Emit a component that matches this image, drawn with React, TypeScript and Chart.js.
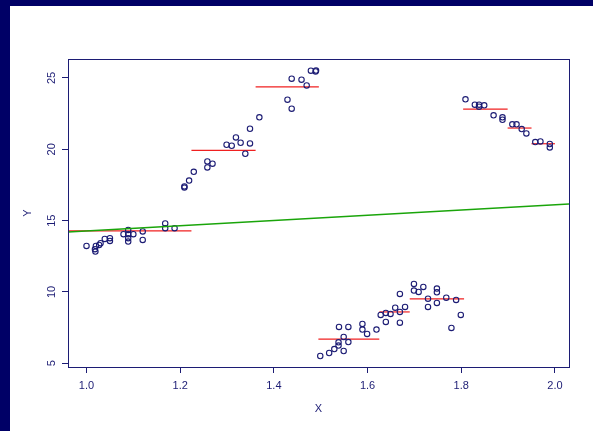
import React, { useEffect, useRef } from "react";
import { Chart, registerables } from "chart.js";

Chart.register(...registerables);

const xTicks = [1.0, 1.2, 1.4, 1.6, 1.8, 2.0];
const yTicks = [5, 10, 15, 20, 25];

const pointX = [
  1.0, 1.02, 1.018, 1.019, 1.027, 1.03, 1.039, 1.05, 1.05, 1.079, 1.089, 1.089, 1.1, 1.089, 1.089, 1.12, 1.12, 1.168, 1.168, 1.188,
  1.209, 1.209, 1.219, 1.229, 1.258, 1.258, 1.269, 1.299, 1.31, 1.319, 1.329, 1.339, 1.349, 1.349, 1.369, 1.429, 1.438, 1.438, 1.459, 1.47, 1.479, 1.489, 1.49,
  1.499, 1.518, 1.529, 1.538, 1.538, 1.539, 1.549, 1.549, 1.559, 1.559, 1.589, 1.589, 1.599, 1.619, 1.628, 1.639, 1.639, 1.649, 1.659, 1.669, 1.669, 1.669, 1.68, 1.699, 1.699, 1.709, 1.719, 1.729, 1.729, 1.748, 1.748, 1.748, 1.768, 1.779, 1.789, 1.799,
  1.809, 1.829, 1.838, 1.838, 1.849, 1.869, 1.888, 1.888, 1.909, 1.918, 1.929, 1.939, 1.958, 1.969, 1.989, 1.989,
];
const pointY = [
  13.23, 13.23, 13.0, 12.83, 13.3, 13.42, 13.72, 13.77, 13.58, 14.05, 14.35, 14.05, 14.05, 13.77, 13.53, 14.24, 13.65, 14.8, 14.47, 14.47,
  17.32, 17.4, 17.81, 18.42, 19.15, 18.73, 18.99, 20.32, 20.25, 20.83, 20.46, 19.69, 20.41, 21.44, 22.24, 23.48, 22.85, 24.95, 24.88, 24.48, 25.51, 25.46, 25.52,
  5.51, 5.72, 6.0, 6.24, 6.47, 7.55, 5.86, 6.85, 6.49, 7.55, 7.76, 7.36, 7.06, 7.36, 8.39, 7.9, 8.53, 8.46, 8.9, 8.6, 7.85, 9.86, 8.95, 10.56, 10.1, 10.0, 10.35, 9.53, 8.95, 10.24, 9.98, 9.23, 9.6, 7.48, 9.44, 8.39,
  23.5, 23.13, 23.13, 22.99, 23.08, 22.38, 22.24, 22.07, 21.75, 21.75, 21.42, 21.11, 20.51, 20.55, 20.37, 20.13,
];

const stepStart = [0.96, 1.224, 1.361, 1.495, 1.625, 1.69, 1.804, 1.899, 1.95];
const stepEnd = [1.224, 1.361, 1.496, 1.625, 1.69, 1.806, 1.899, 1.95, 2.0];
const stepLevel = [14.28, 19.92, 24.37, 6.7, 8.6, 9.51, 22.82, 21.49, 20.39];

const fitX = [0.96, 2.03];
const fitY = [14.2, 16.17];

const NAVY = "#1c1c74";
const RED = "#f02020";
const GREEN = "#1aa50a";
const FONT = "'Liberation Sans', Arial, sans-serif";

export default function App() {
  const ref = useRef<HTMLCanvasElement>(null);

  useEffect(() => {
    const canvas = ref.current;
    if (!canvas) return;

    const boxPlugin = {
      id: "boxPlugin",
      afterDraw(chart: any) {
        const { ctx, chartArea } = chart;
        ctx.save();
        ctx.strokeStyle = NAVY;
        ctx.lineWidth = 1;
        ctx.strokeRect(
          Math.round(chartArea.left) + 0.5,
          Math.round(chartArea.top) + 0.5,
          Math.round(chartArea.right - chartArea.left),
          Math.round(chartArea.bottom - chartArea.top)
        );
        ctx.restore();
      },
    };

    const datasets: any[] = [];
    datasets.push({
      data: pointX.map((x, i) => ({ x, y: pointY[i] })),
      showLine: false,
      pointStyle: "circle",
      pointRadius: 2.7,
      pointBorderWidth: 1.1,
      borderColor: NAVY,
      backgroundColor: "rgba(0,0,0,0)",
      pointBackgroundColor: "rgba(0,0,0,0)",
      order: 1,
    });
    stepStart.forEach((s, i) => {
      datasets.push({
        data: [
          { x: s, y: stepLevel[i] },
          { x: stepEnd[i], y: stepLevel[i] },
        ],
        showLine: true,
        borderColor: RED,
        borderWidth: 1.2,
        pointRadius: 0,
        order: 2,
      });
    });
    datasets.push({
      data: fitX.map((x, i) => ({ x, y: fitY[i] })),
      showLine: true,
      borderColor: GREEN,
      borderWidth: 1.4,
      pointRadius: 0,
      order: 0,
    });

    const chart = new Chart(canvas, {
      type: "scatter",
      data: { datasets },
      plugins: [boxPlugin],
      options: {
        animation: false,
        responsive: false,
        devicePixelRatio: 1,
        layout: { padding: { top: 53, right: 24, left: 0, bottom: 0 } },
        plugins: { legend: { display: false }, tooltip: { enabled: false } },
        scales: {
          x: {
            type: "linear",
            min: 0.9605,
            max: 2.03,
            afterFit: (s: any) => {
              s.height = 64;
            },
            afterBuildTicks: (s: any) => {
              s.ticks = xTicks.map((v) => ({ value: v }));
            },
            border: { display: false },
            grid: {
              display: true,
              drawOnChartArea: false,
              drawTicks: true,
              tickLength: 6,
              color: NAVY,
              lineWidth: 1,
            },
            ticks: {
              color: NAVY,
              font: { family: FONT, size: 11 },
              padding: 6,
              maxRotation: 0,
              minRotation: 0,
              autoSkip: false,
              callback: (v: any) => Number(v).toFixed(1),
            },
            title: {
              display: true,
              text: "X",
              color: NAVY,
              font: { family: FONT, size: 11 },
              padding: { top: 0, bottom: 15 },
            },
          },
          y: {
            type: "linear",
            min: 4.74,
            max: 26.33,
            afterFit: (s: any) => {
              s.width = 58;
            },
            afterBuildTicks: (s: any) => {
              s.ticks = yTicks.map((v) => ({ value: v }));
            },
            border: { display: false },
            grid: {
              display: true,
              drawOnChartArea: false,
              drawTicks: true,
              tickLength: 6,
              color: NAVY,
              lineWidth: 1,
            },
            ticks: {
              color: NAVY,
              font: { family: FONT, size: 11 },
              padding: 4,
              minRotation: 90,
              maxRotation: 90,
              crossAlign: "center",
              autoSkip: false,
              callback: (v: any) => String(v),
            },
            title: {
              display: true,
              text: "Y",
              color: NAVY,
              font: { family: FONT, size: 11 },
              padding: { top: 11, bottom: 0 },
            },
          },
        },
      } as any,
    });
    return () => chart.destroy();
  }, []);

  return (
    <div
      style={{
        position: "fixed",
        left: 0,
        top: 0,
        width: 593,
        height: 431,
        background: "#000066",
        overflow: "hidden",
      }}
    >
      <div
        style={{
          position: "absolute",
          left: 10,
          top: 6,
          width: 583,
          height: 425,
          background: "#ffffff",
        }}
      >
        <canvas ref={ref} width={583} height={425} style={{ display: "block", width: 583, height: 425 }} />
      </div>
    </div>
  );
}
